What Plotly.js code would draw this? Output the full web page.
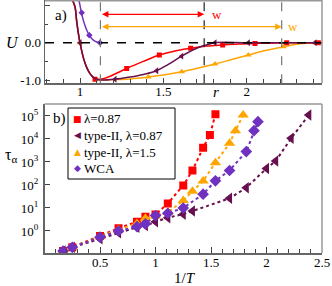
<!DOCTYPE html>
<html><head><meta charset="utf-8">
<script src="https://cdn.plot.ly/plotly-3.0.1.min.js"></script>
<style>html,body{margin:0;padding:0;background:#fff}#c{width:332px;height:286px}</style>
</head><body><div id="c"></div>
<script>
// ---- panel a) potentials U(r) ----
var rRed   = [0.955,0.97,0.98,0.99,1.0,1.02,1.04,1.06,1.08,1.1,1.15,1.2,1.28,1.38,1.476,1.57,1.664,1.76,1.856,1.95,2.05,2.24,2.45];
var uRed   = [1.14,0.96,0.58,0.26,0.0,-0.40,-0.66,-0.83,-0.93,-0.98,-0.95,-0.86,-0.69,-0.50,-0.33,-0.22,-0.15,-0.09,-0.06,-0.035,-0.02,0,0];
var rRedM  = [1.09,1.28,1.476,1.664,1.856,2.05,2.24,2.43];
var uRedM  = [-0.98,-0.69,-0.33,-0.15,-0.06,-0.02,0,0];

var rDark  = [0.955,0.97,0.98,0.99,1.0,1.02,1.04,1.06,1.08,1.1,1.12,1.21,1.3,1.38,1.46,1.53,1.61,1.7,1.75,1.81,2.01,2.45];
var uDark  = [1.14,0.96,0.58,0.26,0.0,-0.40,-0.66,-0.83,-0.93,-0.98,-1.0,-0.98,-0.92,-0.85,-0.75,-0.58,-0.36,-0.15,-0.07,0,0,0];
var rDarkM = [1.0,1.21,1.46,1.61,1.81,2.01,2.41];
var uDarkM = [0,-0.98,-0.75,-0.36,0,0,0];

var rOr    = [0.955,0.97,0.98,0.99,1.0,1.02,1.04,1.06,1.08,1.1,1.12,1.2,1.3,1.41,1.51,1.61,1.71,1.81,1.91,2.01,2.11,2.22,2.32,2.41,2.45];
var uOr    = [1.14,0.96,0.58,0.26,0.0,-0.40,-0.66,-0.83,-0.93,-0.98,-1.0,-0.99,-0.97,-0.92,-0.86,-0.78,-0.68,-0.57,-0.45,-0.33,-0.21,-0.11,-0.03,0,0];
var rOrM   = [1.0,1.41,1.61,1.81,2.01,2.22,2.41];
var uOrM   = [0,-0.92,-0.78,-0.57,-0.33,-0.11,0];

var rWca   = [0.994,1.0,1.01,1.02,1.03,1.04,1.06,1.08,1.1,1.12];
var uWca   = [1.14,1.0,0.78,0.6,0.46,0.34,0.17,0.07,0.02,0];
var rWcaM  = [1.01,1.056,1.12];
var uWcaM  = [0.8,0.2,0];

// ---- panel b) tau_alpha vs 1/T ----
var xRed  = [0.167,0.25,0.5,0.667,0.833,0.909,1.0,1.111,1.25,1.333,1.429,1.49,1.54];
var tRed  = [-0.87,-0.71,-0.22,0.12,0.40,0.62,0.72,1.20,1.98,2.63,3.62,4.17,5.07];
var xDark = [0.167,0.25,0.5,0.667,0.833,0.909,1.0,1.111,1.25,1.333,1.667,1.818,2.0,2.083,2.222,2.381];
var tDark = [-0.87,-0.71,-0.34,-0.08,0.16,0.24,0.40,0.58,0.73,0.87,1.42,1.88,2.72,3.04,4.03,5.04];
var xOr   = [0.167,0.25,0.5,0.667,0.833,0.909,1.0,1.111,1.25,1.333,1.429,1.54,1.667,1.72,1.79];
var tOr   = [-0.87,-0.71,-0.25,0.05,0.33,0.55,0.65,0.81,1.32,1.73,2.17,2.97,3.81,4.36,5.04];
var xWca  = [0.167,0.25,0.5,0.667,0.833,0.909,1.0,1.111,1.25,1.429,1.54,1.667,1.818,1.887,1.923];
var tWca  = [-0.87,-0.71,-0.27,0.0,0.19,0.31,0.67,0.77,1.0,1.6,2.18,2.63,3.45,4.36,4.75];

var names  = ['\u03bb=0.87','type-II, \u03bb=0.87','type-II, \u03bb=1.5','WCA'];
var glyphs = ['\u25a0','\u25c0','\u25b2','\u25c6'];
var cRed='#ff0000', cDark='#66104f', cOr='#ffa500', cWca='#7030c0';
var colors = [cRed,cDark,cOr,cWca];
var FONT='Liberation Serif, Times New Roman, serif';
function pw(a){return a.map(function(v){return Math.pow(10,v);});}

var traces = [
 {x:rOr,y:uOr,mode:'lines',line:{color:cOr,width:1.5,shape:'spline'},xaxis:'x',yaxis:'y'},
 {x:rOrM,y:uOrM,mode:'markers',marker:{color:cOr,symbol:'triangle-up',size:6},xaxis:'x',yaxis:'y'},
 {x:rRed,y:uRed,mode:'lines',line:{color:cRed,width:1.5,shape:'spline'},xaxis:'x',yaxis:'y'},
 {x:rRedM,y:uRedM,mode:'markers',marker:{color:cRed,symbol:'square',size:5},xaxis:'x',yaxis:'y'},
 {x:rDark,y:uDark,mode:'lines',line:{color:cDark,width:1.5,shape:'spline'},xaxis:'x',yaxis:'y'},
 {x:rDarkM,y:uDarkM,mode:'markers',marker:{color:cDark,symbol:'triangle-left',size:6},xaxis:'x',yaxis:'y'},
 {x:rWca,y:uWca,mode:'lines',line:{color:cWca,width:1.5,shape:'spline'},xaxis:'x',yaxis:'y'},
 {x:rWcaM,y:uWcaM,mode:'markers',marker:{color:cWca,symbol:'diamond',size:5},xaxis:'x',yaxis:'y'},

 {x:xRed,y:pw(tRed),name:names[0],mode:'lines+markers',line:{color:cRed,width:2,dash:'dot'},marker:{color:cRed,symbol:'square',size:8},xaxis:'x2',yaxis:'y2'},
 {x:xDark,y:pw(tDark),name:names[1],mode:'lines+markers',line:{color:cDark,width:2,dash:'dot'},marker:{color:cDark,symbol:'triangle-left',size:10},xaxis:'x2',yaxis:'y2'},
 {x:xOr,y:pw(tOr),name:names[2],mode:'lines+markers',line:{color:cOr,width:2,dash:'dot'},marker:{color:cOr,symbol:'triangle-up',size:10},xaxis:'x2',yaxis:'y2'},
 {x:xWca,y:pw(tWca),name:names[3],mode:'lines+markers',line:{color:cWca,width:2,dash:'dot'},marker:{color:cWca,symbol:'diamond',size:9},xaxis:'x2',yaxis:'y2'}
];

var W=332,H=286;
function px(x){return x/W;} function py(y){return 1-y/H;}
var axCommon = {showline:true,linecolor:'#666',linewidth:1.5,ticks:'inside',tickcolor:'#444',showgrid:false,zeroline:false,
  tickfont:{family:FONT,size:13,color:'#000'}};

var annotations = [
  {x:1.745,y:0.76,ax:1.1225,ay:0.76,xref:'x',yref:'y',axref:'x',ayref:'y',text:'',showarrow:true,arrowside:'end+start',arrowhead:2,arrowsize:1,arrowwidth:1.3,arrowcolor:cRed},
  {x:2.21,y:0.43,ax:1.1225,ay:0.43,xref:'x',yref:'y',axref:'x',ayref:'y',text:'',showarrow:true,arrowside:'end+start',arrowhead:2,arrowsize:1,arrowwidth:1.3,arrowcolor:cOr},
  {x:px(210),y:py(14),xref:'paper',yref:'paper',xanchor:'left',yanchor:'middle',text:'w',showarrow:false,font:{family:FONT,size:13,color:cRed}},
  {x:px(286),y:py(27),xref:'paper',yref:'paper',xanchor:'left',yanchor:'middle',text:'w',showarrow:false,font:{family:FONT,size:13,color:cOr}},
  {x:px(53),y:py(15),xref:'paper',yref:'paper',xanchor:'left',yanchor:'middle',text:'a)',showarrow:false,font:{family:FONT,size:15}},
  {x:px(51),y:py(118),xref:'paper',yref:'paper',xanchor:'left',yanchor:'middle',text:'b)',showarrow:false,font:{family:FONT,size:15}},
  {x:px(12),y:py(43),xref:'paper',yref:'paper',xanchor:'center',yanchor:'middle',text:'<i>U</i>',showarrow:false,font:{family:FONT,size:16}},
  {x:px(216),y:py(92),xref:'paper',yref:'paper',xanchor:'center',yanchor:'middle',text:'<i>r</i>',showarrow:false,font:{family:FONT,size:15}},
  {x:px(11),y:py(155),xref:'paper',yref:'paper',xanchor:'center',yanchor:'middle',text:'\u03c4<sub>\u03b1</sub>',showarrow:false,font:{family:FONT,size:16}},
  {x:px(185),y:py(278),xref:'paper',yref:'paper',xanchor:'center',yanchor:'middle',text:'1/<i>T</i>',showarrow:false,font:{family:FONT,size:15}}
];
// hand-made legend (symbol glyph + label)
var legRows = [119,135,152,168];
for (var i=0;i<4;i++){
  annotations.push({x:px(77),y:py(legRows[i]),xref:'paper',yref:'paper',xanchor:'center',yanchor:'middle',text:glyphs[i],showarrow:false,
    font:{family:'DejaVu Sans',size:9,color:colors[i]}});
  annotations.push({x:px(82),y:py(legRows[i]),xref:'paper',yref:'paper',xanchor:'left',yanchor:'middle',text:names[i],showarrow:false,
    font:{family:FONT,size:13,color:'#000'}});
}

var layout = {
 width:W,height:H,margin:{l:0,r:0,t:0,b:0},paper_bgcolor:'#fff',plot_bgcolor:'#fff',showlegend:false,
 font:{family:FONT,color:'#000'},
 xaxis:Object.assign({},axCommon,{domain:[px(45),px(322)],range:[0.79,2.452],anchor:'y',ticklabelstandoff:-4,
   tickvals:[1,1.5,2],ticktext:['1','1.5','2'],ticklen:5,minor:{dtick:0.1,tick0:0,ticks:'inside',ticklen:4,tickcolor:'#444'}}),
 yaxis:Object.assign({},axCommon,{domain:[py(83.3),py(0)],range:[-1.088,1.145],anchor:'x',
   tickvals:[-1,0,1],ticktext:['-1.0','0.0','1.0\u00a0\u00a0\u00a0\u00a0\u00a0'],ticklen:5,minor:{dtick:0.5,ticks:'inside',ticklen:3,tickcolor:'#444'}}),
 xaxis2:Object.assign({},axCommon,{domain:[px(44.5),px(322)],range:[0,2.5],anchor:'y2',ticklabelstandoff:-3,
   tickvals:[0.5,1,1.5,2,2.5],ticktext:['0.5','1','1.5','2','2.5'],ticklen:6,minor:{dtick:0.1,tick0:0,ticks:'inside',ticklen:4,tickcolor:'#444'}}),
 yaxis2:Object.assign({},axCommon,{domain:[py(253),py(104)],type:'log',range:[-0.957,5.52],anchor:'x2',ticklabelstandoff:2,
   tickvals:[1,10,100,1000,10000,100000],
   ticktext:['10<sup>0</sup>','10<sup>1</sup>','10<sup>2</sup>','10<sup>3</sup>','10<sup>4</sup>','10<sup>5</sup>'],ticklen:5}),
 shapes:[
  {type:'line',xref:'x',yref:'y',x0:0.79,x1:2.452,y0:0,y1:0,line:{color:'#000',width:1.5,dash:'dash'}},
  {type:'line',xref:'x',yref:'paper',x0:1.1225,x1:1.1225,y0:py(83.3),y1:1,line:{color:'#777',width:1.2,dash:'dash'}},
  {type:'line',xref:'x',yref:'paper',x0:1.745,x1:1.745,y0:py(83.3),y1:1,line:{color:'#222',width:1.2,dash:'dash'}},
  {type:'line',xref:'x',yref:'paper',x0:2.21,x1:2.21,y0:py(83.3),y1:1,line:{color:'#777',width:1.2,dash:'dash'}},
  {type:'line',xref:'paper',yref:'paper',x0:px(322),x1:px(322),y0:py(83.3),y1:1,line:{color:'#999',width:1.5}},
  {type:'line',xref:'paper',yref:'paper',x0:px(45),x1:px(322),y0:py(0.7),y1:py(0.7),line:{color:'#999',width:1.5}},
  {type:'line',xref:'paper',yref:'paper',x0:px(322),x1:px(322),y0:py(253),y1:py(104),line:{color:'#999',width:1.5}},
  {type:'line',xref:'paper',yref:'paper',x0:px(44.5),x1:px(322),y0:py(104),y1:py(104),line:{color:'#999',width:1.5}},
  {type:'rect',xref:'paper',yref:'paper',x0:px(68),x1:px(175),y0:py(179),y1:py(108),line:{color:'#000',width:1},fillcolor:'#fff',layer:'below'}
 ],
 annotations:annotations
};
Plotly.newPlot('c',traces,layout,{displayModeBar:false,staticPlot:true});
</script></body></html>
